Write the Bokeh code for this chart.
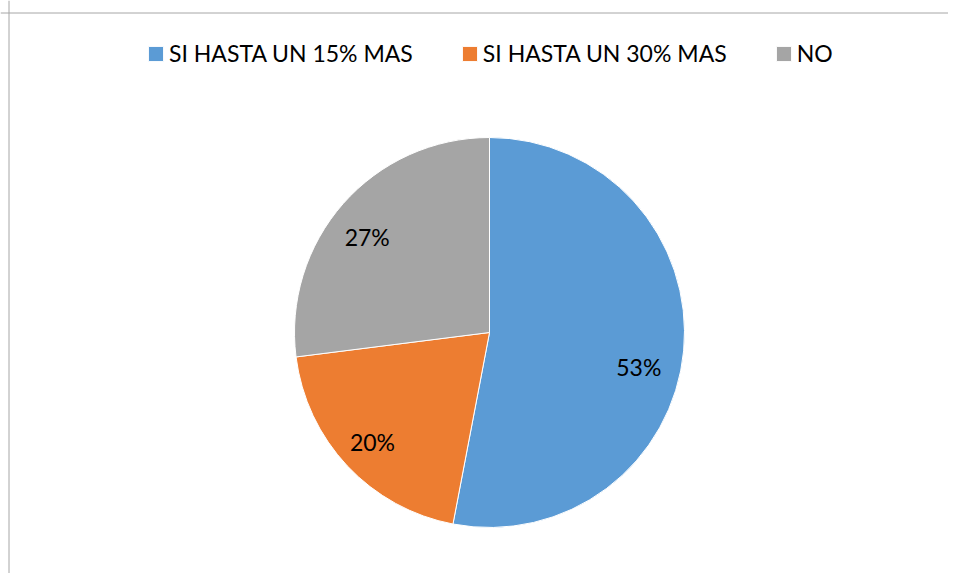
import math
from bokeh.plotting import figure
from bokeh.models import ColumnDataSource, Range1d, Span
from bokeh.core.properties import value
from bokeh.embed import file_html
from bokeh.resources import INLINE

# ---- data ----
categories = ["SI HASTA UN 15% MAS", "SI HASTA UN 30% MAS", "NO"]
percents = [53, 20, 27]
slice_colors = ["#5B9BD5", "#ED7D31", "#A5A5A5"]

# ---- layout ----
W, H = 948, 573
CX, CY, R = 489, 241, 195
FONT = "Lato"
label_r_frac = 0.795
label_nudge = [(-5, -12), (-4, 5), (-6, 1)]

total = sum(percents)
starts, ends, mids = [], [], []
acc = 0.0
for v in percents:
    a0 = math.pi / 2 - 2 * math.pi * acc / total
    acc += v
    a1 = math.pi / 2 - 2 * math.pi * acc / total
    starts.append(a0)
    ends.append(a1)
    mids.append((a0 + a1) / 2)

src = ColumnDataSource(dict(cat=categories, start=starts, end=ends, color=slice_colors))

p = figure(width=W, height=H, output_backend="svg", toolbar_location=None,
           x_range=Range1d(0, W), y_range=Range1d(0, H),
           x_axis_location=None, y_axis_location=None,
           min_border_left=0, min_border_right=0, min_border_top=0, min_border_bottom=0)
p.grid.visible = False
p.outline_line_color = None
p.background_fill_color = "white"

p.wedge(x=CX, y=CY, radius=R, start_angle="start", end_angle="end",
        direction="clock", fill_color="color", line_color="white", line_width=1,
        legend_field="cat", source=src)

lx, ly, lt = [], [], []
for i, m in enumerate(mids):
    lx.append(CX + label_r_frac * R * math.cos(m) + label_nudge[i][0])
    ly.append(CY + label_r_frac * R * math.sin(m) + label_nudge[i][1] - 8)
    lt.append(f"{percents[i]}%")
p.text(x=lx, y=ly, text=lt, text_align="center", text_baseline="alphabetic",
       text_font=value(FONT), text_font_size="23px", text_color="black")

# chart border (top and left visible)
p.add_layout(Span(location=8.5, dimension="height", line_color="#A6A6A6", line_width=1))
p.add_layout(Span(location=H - 12.5, dimension="width", line_color="#A6A6A6", line_width=1))

lg = p.legend[0]
lg.orientation = "horizontal"
lg.location = (146, 506)
lg.glyph_width = 19
lg.glyph_height = 19
lg.label_standoff = 4
lg.spacing = 47
lg.padding = 0
lg.margin = 0
lg.border_line_color = None
lg.background_fill_alpha = 0
lg.label_text_font = FONT
lg.label_text_font_size = "23px"
lg.label_text_color = "black"
lg.label_height = 19

open("out.html", "w").write(file_html(p, INLINE))
